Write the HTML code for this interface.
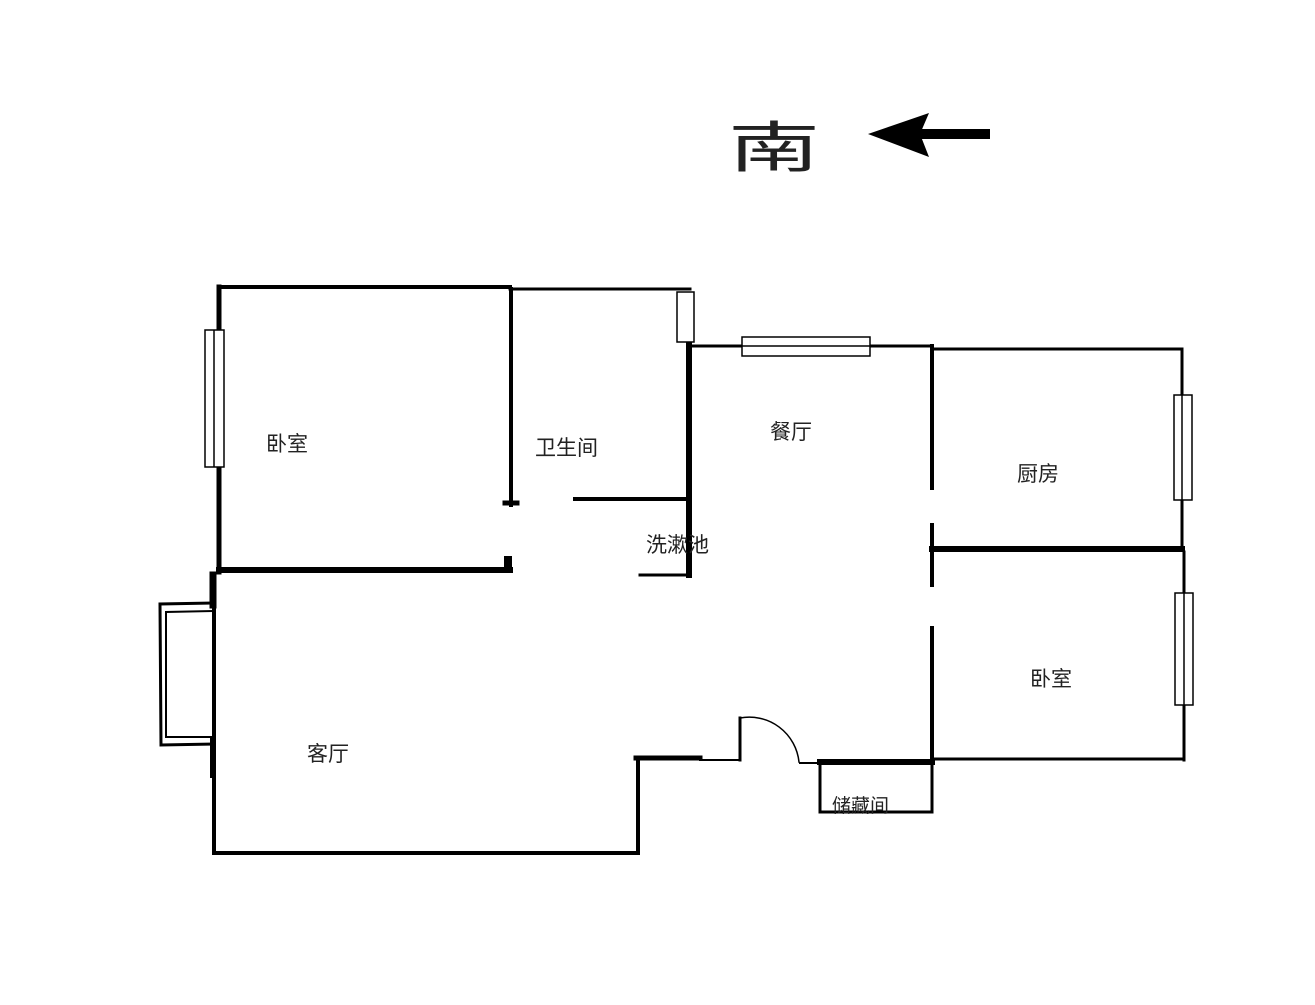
<!DOCTYPE html>
<html><head><meta charset="utf-8"><style>html,body{margin:0;padding:0;background:#fff}</style></head><body>
<svg width="1315" height="1000" viewBox="0 0 1315 1000" xmlns="http://www.w3.org/2000/svg" font-family="'Liberation Sans','Noto Sans CJK SC',sans-serif">
<rect width="1315" height="1000" fill="#fff"/>
<text x="728" y="0" font-size="92" fill="#222" transform="translate(0,167) scale(1,0.6)" textLength="90">南</text>
<line x1="990" y1="134" x2="915" y2="134" stroke="#000" stroke-width="10"/>
<polygon points="868,134 929,113 920,134 929,157" fill="#000"/>
<g stroke="#000" fill="none" stroke-linecap="square">
<line x1="219" y1="287" x2="510" y2="287" stroke-width="4"/>
<line x1="510" y1="289" x2="690" y2="289" stroke-width="3"/>
<line x1="219" y1="287" x2="219" y2="572" stroke-width="5"/>
<line x1="511" y1="289" x2="511" y2="505" stroke-width="4"/>
<line x1="505" y1="503" x2="517" y2="503" stroke-width="5"/>
<line x1="219" y1="570" x2="510" y2="570" stroke-width="6"/>
<rect x="504" y="556" width="8" height="16" fill="#000" stroke="none"/>
<line x1="575" y1="499" x2="688" y2="499" stroke-width="4"/>
<line x1="689" y1="342" x2="689" y2="575" stroke-width="6"/>
<line x1="640" y1="575" x2="690" y2="575" stroke-width="3"/>
<line x1="690" y1="346" x2="930" y2="346" stroke-width="3"/>
<line x1="932" y1="346" x2="932" y2="488" stroke-width="4"/>
<line x1="932" y1="525" x2="932" y2="585" stroke-width="4"/>
<line x1="932" y1="628" x2="932" y2="760" stroke-width="4"/>
<line x1="932" y1="349" x2="1182" y2="349" stroke-width="3"/>
<line x1="1182" y1="349" x2="1182" y2="550" stroke-width="3"/>
<line x1="932" y1="549" x2="1182" y2="549" stroke-width="6"/>
<line x1="1184" y1="552" x2="1184" y2="760" stroke-width="3"/>
<line x1="932" y1="759" x2="1184" y2="759" stroke-width="3"/>
<line x1="820" y1="762" x2="932" y2="762" stroke-width="6"/>
<polyline points="820,762 820,812 932,812 932,762" stroke-width="3"/>
<line x1="800" y1="763" x2="820" y2="763" stroke-width="2"/>
<line x1="740" y1="718" x2="740" y2="760" stroke-width="3"/>
<path d="M740 718 A50 50 0 0 1 799 762" stroke-width="1.5"/>
<line x1="636" y1="758" x2="700" y2="758" stroke-width="5"/>
<line x1="700" y1="760" x2="740" y2="760" stroke-width="2"/>
<line x1="638" y1="758" x2="638" y2="853" stroke-width="4"/>
<line x1="214" y1="853" x2="638" y2="853" stroke-width="4"/>
<line x1="214" y1="575" x2="214" y2="853" stroke-width="4"/>
<line x1="213" y1="575" x2="213" y2="605" stroke-width="7"/>
<line x1="213" y1="740" x2="213" y2="775" stroke-width="6"/>
<polyline points="213,603 160,604 161,745 214,744" stroke-width="3"/>
<polyline points="213,611 166,612 166,737 214,737" stroke-width="2"/>
</g>
<g stroke="#000" stroke-width="1.5" fill="#fff">
<rect x="205" y="330" width="19" height="137"/>
<line x1="214" y1="330" x2="214" y2="467"/>
<rect x="677" y="292" width="17" height="50"/>
<rect x="742" y="337" width="128" height="19"/>
<line x1="742" y1="346" x2="870" y2="346"/>
<rect x="1174" y="395" width="18" height="105"/>
<line x1="1182" y1="395" x2="1182" y2="500"/>
<rect x="1175" y="593" width="18" height="112"/>
<line x1="1184" y1="593" x2="1184" y2="705"/>
</g>
<g font-size="21" fill="#222">
<text x="266" y="451">卧室</text>
<text x="535" y="455">卫生间</text>
<text x="770" y="439">餐厅</text>
<text x="646" y="552">洗漱池</text>
<text x="1017" y="481">厨房</text>
<text x="1030" y="686">卧室</text>
<text x="307" y="761">客厅</text>
<text x="832" y="812" font-size="19">储藏间</text>
</g>
</svg>
</body></html>
